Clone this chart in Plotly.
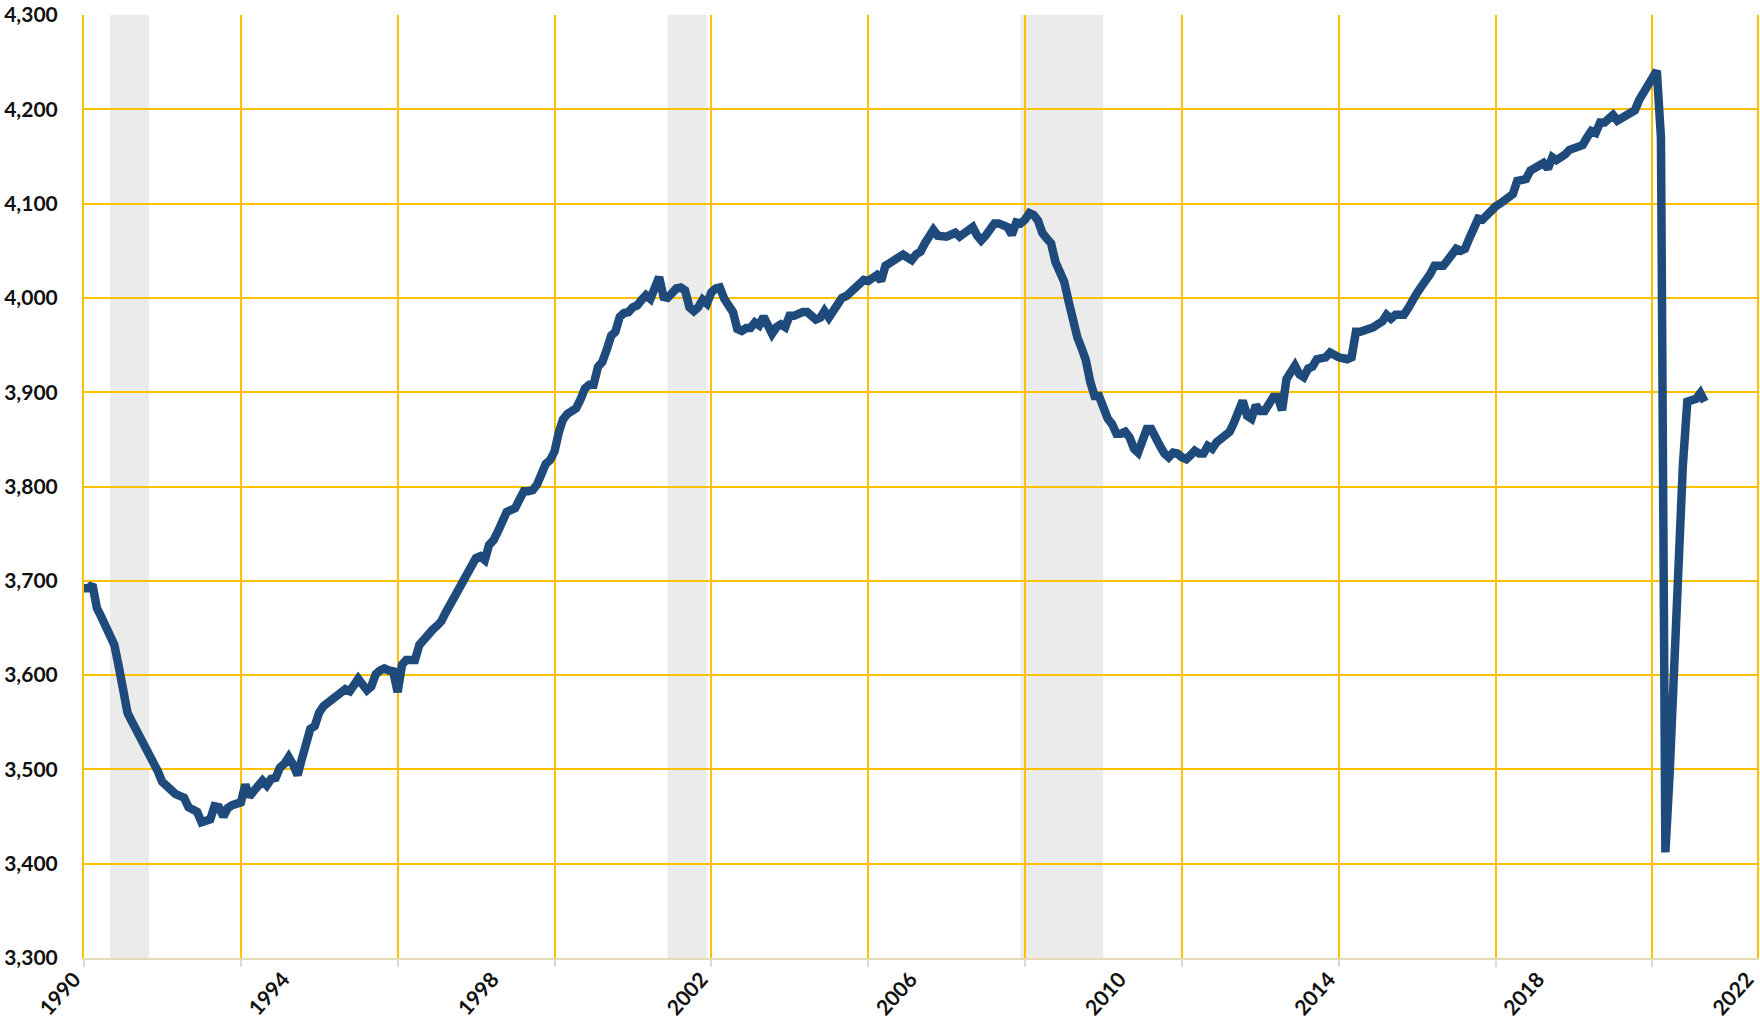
import plotly.graph_objects as go

# Monthly values, Jan 1990 .. Jan 2021 (thousands)
v1990 = [3692, 3692, 3696, 3671, 3662, 3652, 3643, 3632, 3609, 3577, 3560, 3551]
v1991 = [3542, 3534, 3528, 3520, 3510, 3498, 3487, 3482, 3478, 3474, 3472, 3470]
v1992 = [3460, 3458, 3455, 3444, 3445, 3447, 3461, 3460, 3450, 3459, 3462, 3463]
v1993 = [3465, 3484, 3471, 3477, 3483, 3488, 3483, 3490, 3491, 3502, 3506, 3513]
v1994 = [3505, 3494, 3510, 3531, 3543, 3546, 3560, 3567, 3571, 3574, 3578, 3581]
v1995 = [3585, 3583, 3589, 3596, 3590, 3584, 3588, 3601, 3605, 3607, 3605, 3604]
v1996 = [3582, 3611, 3616, 3615, 3616, 3632, 3638, 3643, 3648, 3652, 3657, 3666]
v1997 = [3675, 3683, 3692, 3701, 3708, 3716, 3724, 3726, 3722, 3738, 3743, 3752]
v1998 = [3765, 3773, 3775, 3777, 3786, 3795, 3795, 3796, 3802, 3814, 3824, 3828]
v1999 = [3837, 3858, 3871, 3877, 3881, 3883, 3892, 3904, 3908, 3908, 3927, 3932]
v2000 = [3945, 3960, 3964, 3980, 3984, 3985, 3990, 3992, 3998, 4003, 3999, 4013]
v2001 = [4022, 4001, 4000, 4005, 4010, 4011, 4008, 3990, 3986, 3990, 3998, 3994]
v2002 = [4006, 4010, 4011, 3999, 3992, 3985, 3967, 3965, 3968, 3968, 3974, 3971]
v2003 = [3980, 3969, 3962, 3969, 3972, 3969, 3981, 3981, 3984, 3985, 3985, 3981]
v2004 = [3977, 3979, 3986, 3979, 3987, 3995, 4000, 4002, 4006, 4010, 4016, 4019]
v2005 = [4018, 4020, 4024, 4018, 4034, 4037, 4040, 4044, 4046, 4043, 4040, 4046]
v2006 = [4049, 4058, 4067, 4072, 4066, 4065, 4065, 4067, 4069, 4065, 4068, 4072]
v2007 = [4075, 4066, 4061, 4066, 4072, 4079, 4079, 4077, 4075, 4067, 4080, 4079]
v2008 = [4083, 4090, 4088, 4082, 4069, 4063, 4058, 4038, 4029, 4017, 3996, 3974]
v2009 = [3958, 3946, 3934, 3911, 3896, 3896, 3881, 3872, 3866, 3856, 3856, 3858]
v2010 = [3852, 3840, 3836, 3849, 3861, 3861, 3854, 3843, 3835, 3831, 3836, 3835]
v2011 = [3831, 3829, 3833, 3838, 3835, 3835, 3843, 3840, 3847, 3851, 3853, 3858]
v2012 = [3868, 3879, 3891, 3875, 3872, 3886, 3880, 3880, 3889, 3895, 3895, 3881]
v2013 = [3914, 3921, 3928, 3919, 3916, 3925, 3927, 3935, 3935, 3937, 3942, 3939]
v2014 = [3937, 3936, 3935, 3937, 3964, 3964, 3965, 3967, 3969, 3972, 3975, 3982]
v2015 = [3978, 3982, 3982, 3982, 3989, 3999, 4005, 4012, 4017, 4025, 4034, 4035]
v2016 = [4034, 4040, 4048, 4052, 4050, 4052, 4063, 4075, 4084, 4083, 4088, 4095]
v2017 = [4097, 4100, 4103, 4106, 4110, 4124, 4125, 4126, 4135, 4137, 4140, 4143]
v2018 = [4137, 4149, 4146, 4148, 4152, 4157, 4159, 4159, 4162, 4170, 4177, 4175]
v2019 = [4186, 4186, 4190, 4194, 4188, 4191, 4195, 4198, 4199, 4210, 4217, 4224]
v2020 = [4234, 4241, 4170, 3412, 3497, 3605, 3757, 3822, 3890, 3892, 3893, 3899]
v2021 = [3890]

yearly = [v1990, v1991, v1992, v1993, v1994, v1995, v1996, v1997, v1998, v1999,
          v2000, v2001, v2002, v2003, v2004, v2005, v2006, v2007, v2008, v2009,
          v2010, v2011, v2012, v2013, v2014, v2015, v2016, v2017, v2018, v2019,
          v2020, v2021]

dates, values = [], []
for i, vals in enumerate(yearly):
    for m, v in enumerate(vals):
        dates.append(f"{1990 + i}-{m + 1:02d}-01")
        values.append(v)

# Recession periods
rec_start = ["1990-07-01", "2001-03-01", "2007-12-01"]
rec_end = ["1991-03-31", "2001-11-30", "2009-06-30"]

# Axis labels / grid positions
label_years = [1990, 1994, 1998, 2002, 2006, 2010, 2014, 2018, 2022]
grid_years = [1990, 1993, 1996, 1999, 2002, 2005, 2008, 2011, 2014, 2017, 2020]
x_range = ["1990-01-01", "2022-01-01"]
y_range = [3300, 4300]

GOLD = "#FFC000"
LINE = "#1F4A7C"
FONT = dict(family="Lato", size=21, color="#111111", weight="bold")

fig = go.Figure()
fig.add_trace(go.Scatter(x=dates, y=values, mode="lines",
                         line=dict(color=LINE, width=8.5),
                         hoverinfo="skip", showlegend=False))
# invisible twin on the label axis so it is drawn
fig.add_trace(go.Scatter(x=dates, y=values, mode="lines", xaxis="x2",
                         line=dict(color="rgba(0,0,0,0)", width=0),
                         hoverinfo="skip", showlegend=False))

for s, e in zip(rec_start, rec_end):
    fig.add_shape(type="rect", xref="x", yref="paper", x0=s, x1=e, y0=0, y1=1,
                  fillcolor="rgba(227,227,227,0.72)", line=dict(width=0),
                  layer="between")

fig.update_layout(
    width=1760, height=1029,
    margin=dict(l=84, r=3, t=15, b=71, autoexpand=False),
    paper_bgcolor="white", plot_bgcolor="white",
    xaxis=dict(type="date", range=x_range, automargin=False,
               tickvals=[f"{y}-01-01" for y in grid_years],
               showticklabels=False,
               showgrid=True, gridcolor=GOLD, gridwidth=2,
               ticks="outside", ticklen=7, tickcolor="#D9D9D9", tickwidth=2,
               showline=True, linecolor="#E6D9B5", linewidth=2,
               zeroline=False),
    xaxis2=dict(type="date", range=x_range, overlaying="x", anchor="y",
                side="bottom", matches="x", automargin=False,
                tickvals=[f"{y}-01-01" for y in label_years],
                ticktext=[str(y) for y in label_years],
                tickangle=-48, tickfont=FONT,
                showgrid=False, ticks="", showline=False, zeroline=False,
                ticklabelstandoff=4, ticklabelshift=-10,
                ticklabeloverflow="allow"),
    yaxis=dict(range=y_range, dtick=100, tick0=3300, tickformat=",d",
               automargin=False,
               tickfont=FONT, showgrid=True, gridcolor=GOLD, gridwidth=2,
               showline=True, linecolor=GOLD, linewidth=2, mirror=True,
               zeroline=False, ticks="", ticklabelstandoff=20),
)

fig.write_html("out.html", config={"displayModeBar": False},
               post_script="document.body.style.margin='0';document.body.style.overflow='hidden';")
